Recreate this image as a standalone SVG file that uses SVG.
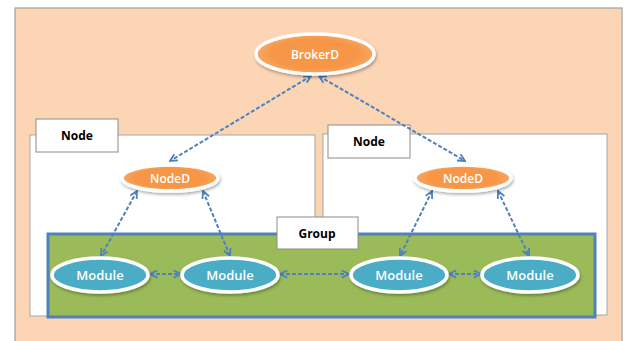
<svg xmlns="http://www.w3.org/2000/svg" width="624" height="341" viewBox="0 0 624 341">
<defs>
<style>
.bg{fill:#fcd5b5;stroke:#a0a0a0;stroke-width:1.2}
.node{fill:#ffffff;stroke:#a6a6a6;stroke-width:1}
.lbl{fill:#ffffff;stroke:#8c8c8c;stroke-width:1}
.lt{font-family:"Open Sans","Liberation Sans",sans-serif;font-weight:bold;font-size:12px;fill:#000;text-anchor:middle;dominant-baseline:central}
.et{font-family:"Open Sans","Liberation Sans",sans-serif;font-weight:600;font-size:12px;fill:#ffffff;text-anchor:middle;dominant-baseline:central}
.orange{fill:url(#og);stroke:#ffffff;stroke-width:3.5}
.blue{fill:#4bacc6;stroke:#ffffff;stroke-width:3.5}
.con{stroke:#4f81bd;stroke-width:2;stroke-dasharray:4 2;fill:none;marker-start:url(#ah);marker-end:url(#ah)}
</style>
<radialGradient id="og" cx="50%" cy="50%" r="60%">
<stop offset="0.6" stop-color="#f79646"/>
<stop offset="1" stop-color="#f9b47a"/>
</radialGradient>
<filter id="sh" x="-20%" y="-30%" width="140%" height="160%">
<feDropShadow dx="1" dy="2" stdDeviation="1.5" flood-color="#000" flood-opacity="0.3"/>
</filter>
<marker id="ah" viewBox="0 0 10 10" refX="9" refY="5" markerWidth="9" markerHeight="9" markerUnits="userSpaceOnUse" orient="auto-start-reverse">
<path d="M1,1 L9,5 L1,9" fill="none" stroke="#4f81bd" stroke-width="2"/>
</marker>
</defs>
<rect class="bg" x="15" y="8" width="607" height="340"/>
<g id="node-left"><rect class="node" x="30" y="135" width="285" height="181"/></g>
<g id="node-right"><rect class="node" x="323" y="134" width="284" height="181"/></g>
<g id="group"><rect x="48" y="234" width="547" height="83" fill="#9bbb59" stroke="#4f81bd" stroke-width="3"/></g>
<g id="label-node-left"><rect class="lbl" x="36" y="119" width="82" height="33"/><text class="lt" x="77" y="135">Node</text></g>
<g id="label-node-right"><rect class="lbl" x="328" y="125" width="82" height="33"/><text class="lt" x="369" y="141">Node</text></g>
<g id="label-group"><rect class="lbl" x="277" y="217" width="81" height="32"/><text class="lt" x="317" y="233">Group</text></g>
<g id="connectors">
<line class="con" x1="311" y1="76" x2="170" y2="161"/>
<line class="con" x1="319" y1="76" x2="465" y2="161"/>
<line class="con" x1="137" y1="191" x2="101" y2="256"/>
<line class="con" x1="203" y1="191" x2="230" y2="256"/>
<line class="con" x1="432" y1="191" x2="400" y2="256"/>
<line class="con" x1="498" y1="191" x2="529" y2="256"/>
<line class="con" x1="150" y1="274" x2="181" y2="274"/>
<line class="con" x1="280" y1="274" x2="349" y2="274"/>
<line class="con" x1="449" y1="274" x2="481" y2="274"/>
</g>
<g id="brokerd"><ellipse class="orange" filter="url(#sh)" cx="315" cy="54" rx="59" ry="20"/><text class="et" x="315" y="54">BrokerD</text></g>
<g id="noded-left"><ellipse class="orange" filter="url(#sh)" cx="170" cy="178" rx="48" ry="13"/><text class="et" x="170" y="178">NodeD</text></g>
<g id="noded-right"><ellipse class="orange" filter="url(#sh)" cx="463" cy="178" rx="48" ry="13"/><text class="et" x="463" y="178">NodeD</text></g>
<g id="module-1"><ellipse class="blue" filter="url(#sh)" cx="100" cy="275" rx="48" ry="17"/><text class="et" x="100" y="275" style="font-size:13px">Module</text></g>
<g id="module-2"><ellipse class="blue" filter="url(#sh)" cx="230" cy="275" rx="48" ry="17"/><text class="et" x="230" y="275" style="font-size:13px">Module</text></g>
<g id="module-3"><ellipse class="blue" filter="url(#sh)" cx="399" cy="275" rx="48" ry="17"/><text class="et" x="399" y="275" style="font-size:13px">Module</text></g>
<g id="module-4"><ellipse class="blue" filter="url(#sh)" cx="530" cy="275" rx="48" ry="17"/><text class="et" x="530" y="275" style="font-size:13px">Module</text></g>
</svg>
